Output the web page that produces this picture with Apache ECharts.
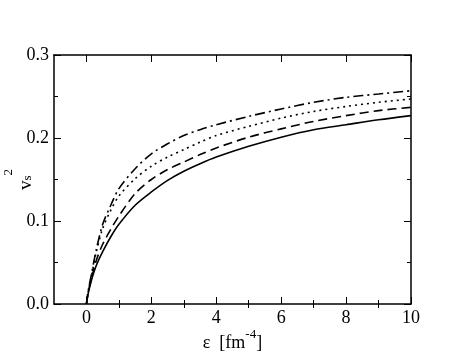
<!DOCTYPE html>
<html>
<head>
<meta charset="utf-8">
<script src="https://cdn.jsdelivr.net/npm/echarts@6/dist/echarts.min.js"></script>
<style>html,body{margin:0;padding:0;background:#fff;}#c{width:463px;height:358px;}</style>
</head>
<body>
<div id="c"></div>
<script>
const eps = [0, 0.05, 0.15, 0.3, 0.5, 0.75, 1.0, 1.5, 2.0, 2.5, 3.0, 3.5, 4.0, 5.0, 6.0, 7.0, 8.0, 9.0, 10.0];
const solid   = [0, 0.012, 0.028, 0.046, 0.063, 0.081, 0.096, 0.119, 0.135, 0.149, 0.160, 0.169, 0.177, 0.190, 0.201, 0.210, 0.216, 0.222, 0.227];
const dashed  = [0, 0.013, 0.030, 0.052, 0.072, 0.090, 0.106, 0.133, 0.150, 0.162, 0.171, 0.180, 0.188, 0.201, 0.211, 0.220, 0.227, 0.233, 0.237];
const dotted  = [0, 0.014, 0.033, 0.062, 0.091, 0.113, 0.130, 0.151, 0.166, 0.177, 0.186, 0.195, 0.203, 0.214, 0.224, 0.232, 0.238, 0.243, 0.247];
const dashdot = [0, 0.015, 0.035, 0.065, 0.096, 0.119, 0.139, 0.163, 0.181, 0.193, 0.203, 0.210, 0.216, 0.226, 0.235, 0.243, 0.249, 0.253, 0.257];
const xMajorTicks = [0, 2, 4, 6, 8, 10];
const xMinorTicks = [1, 3, 5, 7, 9];

const FONT = "'Liberation Serif', 'Times New Roman', serif";
const pairs = arr => eps.map((e, i) => [e, arr[i]]);

function xAx(pos, values, len, labels, extra) {
  return Object.assign({
    type: 'value', position: pos, min: -1, max: 10, nameMoveOverlap: false,
    axisLine: { show: true, onZero: false, lineStyle: { color: '#000', width: 1.5 } },
    axisTick: { show: true, inside: true, length: len, customValues: values, lineStyle: { color: '#000', width: 1 } },
    axisLabel: { show: labels, customValues: values, color: '#000', fontFamily: FONT, fontSize: 18, margin: 5 },
    splitLine: { show: false }
  }, extra || {});
}
function yAx(pos, labels, extra) {
  return Object.assign({
    type: 'value', position: pos, min: 0, max: 0.3, interval: 0.1, nameMoveOverlap: false,
    axisLine: { show: true, onZero: false, lineStyle: { color: '#000', width: 1.5 } },
    axisTick: { show: true, inside: true, length: 7, lineStyle: { color: '#000', width: 1 } },
    minorTick: { show: true, splitNumber: 2, length: 4, lineStyle: { color: '#000', width: 1 } },
    axisLabel: { show: labels, color: '#000', fontFamily: FONT, fontSize: 18, margin: 5, formatter: v => v.toFixed(1) },
    splitLine: { show: false }, minorSplitLine: { show: false }
  }, extra || {});
}

const chart = echarts.init(document.getElementById('c'));
const line = (data, type) => ({
  type: 'line', data: pairs(data), xAxisIndex: 0, yAxisIndex: 0,
  showSymbol: false, smooth: 0.3,
  lineStyle: { color: '#000', width: 1.6, type: type }, silent: true, animation: false
});
chart.setOption({
  animation: false,
  textStyle: { fontFamily: FONT },
  grid: { left: 54, right: 52, top: 55, bottom: 54, containLabel: false, outerBoundsMode: 'none' },
  xAxis: [
    xAx('bottom', xMajorTicks, 7, true, {
      name: '{e|ε}  [fm{p|-4}]', nameLocation: 'middle', nameGap: 24,
      nameTextStyle: { color: '#000', fontFamily: FONT, fontSize: 18,
        rich: {
          e: { fontFamily: FONT, fontSize: 18, color: '#000' },
          p: { fontFamily: FONT, fontSize: 13, color: '#000', verticalAlign: 'top', padding: [0, 0, 17, 0] }
        } }
    }),
    xAx('bottom', xMinorTicks, 4, false, { axisLine: { show: false } }),
    xAx('top', xMajorTicks, 7, false),
    xAx('top', xMinorTicks, 4, false, { axisLine: { show: false } })
  ],
  yAxis: [
    yAx('left', true, {
      name: '{v|v}{s|s}{p|2}', nameLocation: 'middle', nameGap: 18, nameRotate: 90,
      nameTextStyle: { color: '#000', fontFamily: FONT, fontSize: 18,
        rich: {
          v: { fontFamily: FONT, fontSize: 19, color: '#000', lineHeight: 35, verticalAlign: 'bottom' },
          s: { fontFamily: FONT, fontSize: 13, color: '#000', verticalAlign: 'bottom', padding: [0, 0, 2, 0] },
          p: { fontFamily: FONT, fontSize: 13, color: '#000', verticalAlign: 'top', padding: [1, 0, 0, 0] }
        } }
    }),
    yAx('right', false)
  ],
  series: [
    line(solid, 'solid'),
    line(dashed, [9, 5]),
    line(dotted, [2, 4]),
    line(dashdot, [10, 4, 2, 4])
  ]
});
</script>
</body>
</html>
